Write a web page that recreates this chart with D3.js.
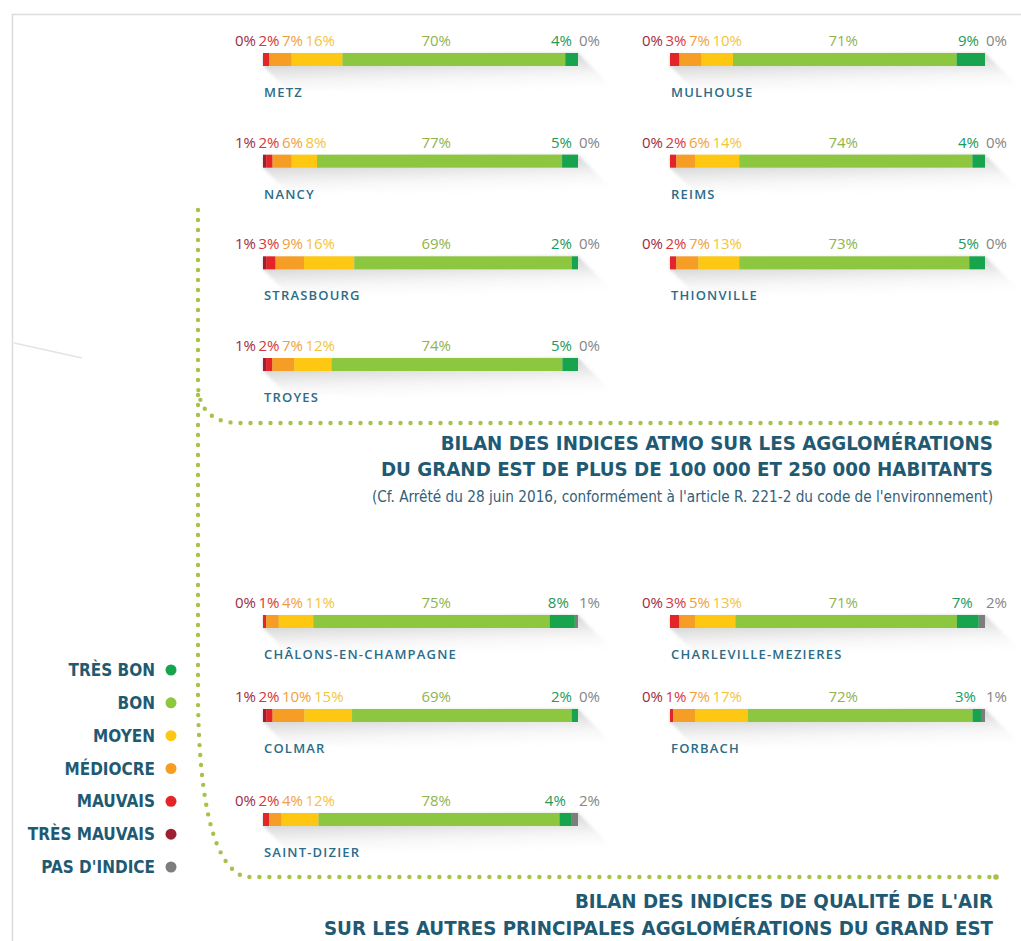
<!DOCTYPE html>
<html>
<head>
<meta charset="utf-8">
<script src="https://cdn.jsdelivr.net/npm/d3@7"></script>
<style>
  html, body { margin: 0; padding: 0; background: #ffffff; }
  svg { display: block; }
</style>
</head>
<body>
<svg id="chart" width="1021" height="941"></svg>
<script>
// ---- Data -----------------------------------------------------------------
// Index categories, in the order they are stacked along each bar (left to right)
const categories = ["Très mauvais", "Mauvais", "Médiocre", "Moyen", "Bon", "Très bon", "Pas d'indice"];

// Legend entries (top to bottom)
const legendKeys   = ["Très bon", "Bon", "Moyen", "Médiocre", "Mauvais", "Très mauvais", "Pas d'indice"];
const legendLabels = ["TRÈS BON", "BON", "MOYEN", "MÉDIOCRE", "MAUVAIS", "TRÈS MAUVAIS", "PAS D'INDICE"];

// Agglomerations of more than 100 000 and 250 000 inhabitants (% of days per index)
const atmoCities = ["METZ", "MULHOUSE", "NANCY", "REIMS", "STRASBOURG", "THIONVILLE", "TROYES"];
const atmoValues = [
  [0, 2, 7, 16, 70, 4, 0],
  [0, 3, 7, 10, 71, 9, 0],
  [1, 2, 6, 8, 77, 5, 0],
  [0, 2, 6, 14, 74, 4, 0],
  [1, 3, 9, 16, 69, 2, 0],
  [0, 2, 7, 13, 73, 5, 0],
  [1, 2, 7, 12, 74, 5, 0]
];

// Other main agglomerations of the Grand Est
const otherCities = ["CHÂLONS-EN-CHAMPAGNE", "CHARLEVILLE-MEZIERES", "COLMAR", "FORBACH", "SAINT-DIZIER"];
const otherValues = [
  [0, 1, 4, 11, 75, 8, 1],
  [0, 3, 5, 13, 71, 7, 2],
  [1, 2, 10, 15, 69, 2, 0],
  [0, 1, 7, 17, 72, 3, 1],
  [0, 2, 4, 12, 78, 4, 2]
];

const titleAtmo = [
  "BILAN DES INDICES ATMO SUR LES AGGLOMÉRATIONS",
  "DU GRAND EST DE PLUS DE 100 000 ET 250 000 HABITANTS"
];
const noteAtmo = "(Cf. Arrêté du 28 juin 2016, conformément à l'article R. 221-2 du code de l'environnement)";
const titleOther = [
  "BILAN DES INDICES DE QUALITÉ DE L'AIR",
  "SUR LES AUTRES PRINCIPALES AGGLOMÉRATIONS DU GRAND EST"
];

// ---- Styles ---------------------------------------------------------------
const barColor = d3.scaleOrdinal()
  .domain(categories)
  .range(["#9e1f32", "#e32428", "#f59d24", "#fdc712", "#8dc63f", "#17a44c", "#7d7d7d"]);
const labelColor = d3.scaleOrdinal()
  .domain(categories)
  .range(["#9c2c42", "#d5383a", "#f0a040", "#f3c43c", "#8fb44f", "#22995c", "#858585"]);

const TEAL = "#1f5a72";
const CITY = "#2c6c88";
const DOT = "#a6c24a";
const headFont = "'DejaVu Sans Condensed', 'DejaVu Sans', sans-serif";
const pctFont = "'Open Sans', 'Noto Sans', sans-serif";

const BAR_W = 315, BAR_H = 13, SHADOW = 42;

const svg = d3.select("#chart");
const defs = svg.append("defs");

// soft long-shadow gradient (fades away from the bar)
const grad = defs.append("linearGradient")
  .attr("id", "shadowGrad")
  .attr("x1", 0).attr("y1", 0).attr("x2", 0.25).attr("y2", 1);
grad.append("stop").attr("offset", 0).attr("stop-color", "#7a7a7a").attr("stop-opacity", 0.55);
grad.append("stop").attr("offset", 0.35).attr("stop-color", "#8a8a8a").attr("stop-opacity", 0.28);
grad.append("stop").attr("offset", 0.7).attr("stop-color", "#9a9a9a").attr("stop-opacity", 0.08);
grad.append("stop").attr("offset", 1).attr("stop-color", "#aaaaaa").attr("stop-opacity", 0);
defs.append("filter").attr("id", "soft")
  .attr("x", "-10%").attr("y", "-30%").attr("width", "120%").attr("height", "160%")
  .append("feGaussianBlur").attr("stdDeviation", 1.6);

// ---- Frame ------------------------------------------------------------------
svg.append("path")
  .attr("d", "M12.5,941 L12.5,14.5 L1021,14.5")
  .attr("fill", "none").attr("stroke", "#dcdcdc").attr("stroke-width", 1.5);
svg.append("line")
  .attr("x1", 14).attr("y1", 343).attr("x2", 82).attr("y2", 358)
  .attr("stroke", "#e4e4e4").attr("stroke-width", 1.5);

// ---- Dotted connectors ------------------------------------------------------
const connectors = [
  "M198,210 L198,385 Q199,423 240,423 L995,423",
  "M198,395 L198,700 Q200,862 245,877 L995,877"
];
svg.append("g").selectAll("path").data(connectors).join("path")
  .attr("d", d => d)
  .attr("fill", "none")
  .attr("stroke", DOT)
  .attr("stroke-width", 4.4)
  .attr("stroke-linecap", "round")
  .attr("stroke-dasharray", "0 10");
svg.append("g").selectAll("circle").data([423, 877]).join("circle")
  .attr("cx", 996).attr("cy", d => d).attr("r", 2.8).attr("fill", DOT);

// ---- Layout scales for the grid of bars -------------------------------------
const colX = d3.scaleOrdinal().domain([0, 1]).range([263, 670]);
const rowAtmo = d3.scaleLinear().domain([0, 3]).range([53, 358]);
const rowOther = d3.scaleOrdinal().domain([0, 1, 2]).range([615, 709, 813]);

function drawBar(parent, name, vals, x0, y0) {
  const g = parent.append("g");
  const total = d3.sum(vals);
  const x = d3.scaleLinear().domain([0, total]).range([x0, x0 + BAR_W]);
  const ends = Array.from(d3.cumsum(vals));
  const segs = vals.map((v, i) => ({ key: categories[i], v, s: ends[i] - v, e: ends[i] }));
  const x1 = x(total), y1 = y0 + BAR_H;

  // long shadow
  g.append("path")
    .attr("d", `M${x0},${y1} L${x0},${y0 + 2} L${x1},${y0} L${x1 + SHADOW},${y0 + SHADOW} L${x0 + SHADOW * 0.55},${y1 + SHADOW * 0.55} Z`)
    .attr("fill", "url(#shadowGrad)")
    .attr("filter", "url(#soft)");

  // stacked segments
  g.selectAll("rect").data(segs).join("rect")
    .attr("x", d => x(d.s))
    .attr("y", y0)
    .attr("width", d => Math.max(0, x(d.e) - x(d.s)))
    .attr("height", BAR_H)
    .attr("fill", d => barColor(d.key));

  // percentage labels
  const lab = g.append("g")
    .attr("font-family", pctFont)
    .attr("font-weight", 400)
    .attr("font-size", 15);
  const base = y0 - 7;
  // the four lowest indexes are written one after another from the bar start
  let cx = x0 - 28;
  segs.slice(0, 4).forEach(d => {
    const t = lab.append("text")
      .attr("x", cx).attr("y", base)
      .attr("fill", labelColor(d.key))
      .text(d.v + "%");
    cx += t.node().getComputedTextLength() + 2.5;
  });
  const bon = segs[4], tresBon = segs[5], na = segs[6];
  lab.append("text")
    .attr("x", x0 + BAR_W * 0.55).attr("y", base)
    .attr("text-anchor", "middle")
    .attr("fill", labelColor(bon.key))
    .text(bon.v + "%");
  lab.append("text")
    .attr("x", x(tresBon.e) - 6).attr("y", base)
    .attr("text-anchor", "end")
    .attr("fill", labelColor(tresBon.key))
    .text(tresBon.v + "%");
  lab.append("text")
    .attr("x", x1 + 1).attr("y", base)
    .attr("fill", labelColor(na.key))
    .text(na.v + "%");

  // city name
  g.append("text")
    .attr("x", x0 + 1).attr("y", y0 + 44)
    .attr("font-family", pctFont)
    .attr("font-weight", 600)
    .attr("font-size", 13)
    .attr("letter-spacing", 1.2)
    .attr("fill", CITY)
    .text(name);
}

const bars = svg.append("g");
atmoCities.forEach((c, i) => drawBar(bars, c, atmoValues[i], colX(i % 2), rowAtmo(Math.floor(i / 2))));
otherCities.forEach((c, i) => drawBar(bars, c, otherValues[i], colX(i % 2), rowOther(Math.floor(i / 2))));

// ---- Titles -----------------------------------------------------------------
const titles = svg.append("g")
  .attr("text-anchor", "end")
  .attr("font-family", headFont)
  .attr("font-stretch", "condensed")
  .attr("fill", TEAL);
titles.selectAll("text.t1").data(titleAtmo).join("text")
  .attr("class", "t1")
  .attr("x", 993).attr("y", (d, i) => 450 + i * 26)
  .attr("font-weight", 700).attr("font-size", 20.3)
  .text(d => d);
titles.append("text")
  .attr("x", 993).attr("y", 502)
  .attr("font-size", 15.2)
  .attr("fill", "#33617a")
  .text(noteAtmo);
titles.selectAll("text.t2").data(titleOther).join("text")
  .attr("class", "t2")
  .attr("x", 993).attr("y", (d, i) => 908 + i * 27)
  .attr("font-weight", 700).attr("font-size", 20.3)
  .text(d => d);

// ---- Legend -----------------------------------------------------------------
const legY = d3.scalePoint().domain(legendKeys).range([670, 867]);
const leg = svg.append("g");
leg.selectAll("text").data(legendKeys).join("text")
  .attr("x", 155).attr("y", d => legY(d) + 6)
  .attr("text-anchor", "end")
  .attr("font-family", headFont)
  .attr("font-stretch", "condensed")
  .attr("font-weight", 700)
  .attr("font-size", 17)
  .attr("fill", TEAL)
  .text((d, i) => legendLabels[i]);
leg.selectAll("circle").data(legendKeys).join("circle")
  .attr("cx", 171).attr("cy", d => legY(d))
  .attr("r", 5.5)
  .attr("fill", d => barColor(d));
</script>
</body>
</html>
